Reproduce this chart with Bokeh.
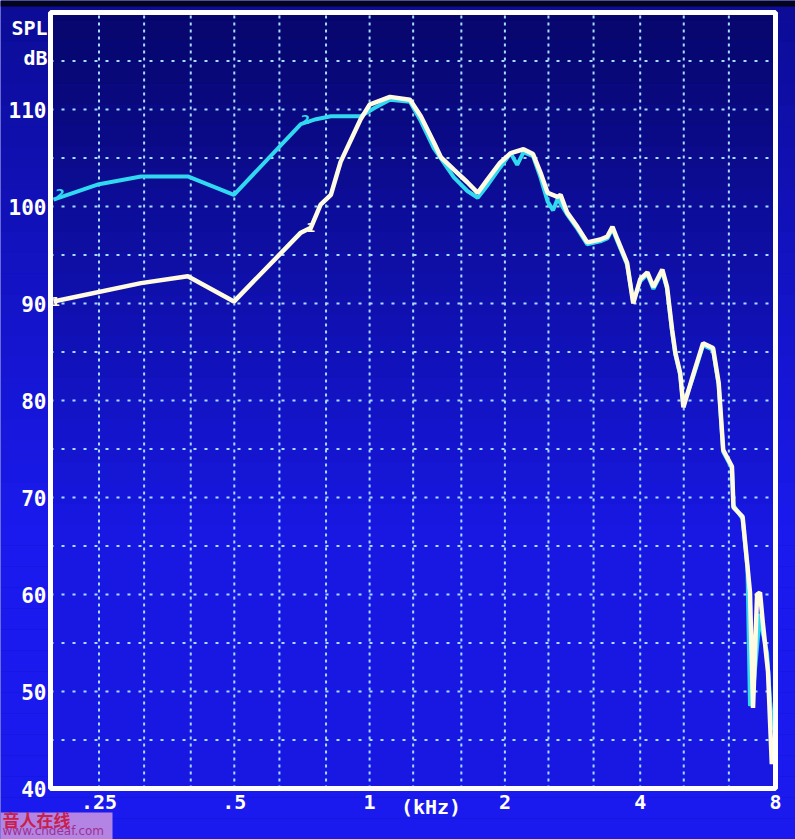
import numpy as np
from bokeh.plotting import figure
from bokeh.models import Range1d
from bokeh.embed import file_html
from bokeh.resources import INLINE
from bokeh.core.properties import value

# ---- data (kHz, dB SPL) ----
white_freq = [0.198, 0.31, 0.394, 0.499, 0.703, 0.74, 0.778, 0.82, 0.862, 0.955, 1.0, 1.11,
              1.23, 1.30, 1.39, 1.44, 1.54, 1.65, 1.74, 1.83, 1.95, 2.06, 2.2, 2.31, 2.40,
              2.49, 2.62, 2.66, 2.75, 2.9, 3.05, 3.26, 3.38, 3.47, 3.56, 3.74, 3.86, 4.0,
              4.15, 4.28, 4.48, 4.59, 4.71, 4.79, 4.91, 4.99, 5.26, 5.52, 5.81, 5.98, 6.12,
              6.4, 6.45, 6.76, 6.93, 7.02, 7.13, 7.28, 7.39, 7.5, 7.7, 7.85]
white_spl = [90.2, 92.1, 92.8, 90.2, 97.3, 97.8, 100.2, 101.2, 104.6, 109.0, 110.5, 111.3,
             111.0, 109.3, 106.6, 105.1, 103.8, 102.5, 101.4, 102.8, 104.5, 105.5, 105.9, 105.4, 103.5,
             101.4, 101.0, 101.2, 99.4, 97.9, 96.3, 96.6, 96.9, 97.9, 96.6, 94.2, 90.0, 92.5,
             93.2, 91.7, 93.5, 91.7, 87.3, 84.9, 82.8, 79.3, 82.8, 85.9, 85.4, 81.8, 74.9,
             73.2, 69.0, 68.0, 62.9, 60.2, 48.3, 60.0, 60.2, 57.0, 52.0, 42.5]

cyan_freq = [0.198, 0.25, 0.31, 0.394, 0.499, 0.703, 0.76, 0.82, 0.955, 1.03, 1.11,
             1.23, 1.30, 1.39, 1.54, 1.65, 1.74, 1.83, 1.95, 2.06, 2.13, 2.2, 2.31, 2.40,
             2.49, 2.56, 2.62, 2.75, 2.9, 3.05, 3.26, 3.38, 3.47, 3.56, 3.74, 3.86, 4.0,
             4.15, 4.28, 4.48, 4.59, 4.71, 4.79, 4.91, 4.99, 5.26, 5.52, 5.81, 5.98, 6.12,
             6.4, 6.45, 6.76, 6.93, 7.02, 7.13, 7.39, 7.5, 7.66, 7.78, 7.9]
cyan_spl = [100.7, 102.3, 103.1, 103.1, 101.2, 108.5, 109.0, 109.3, 109.3, 110.2, 111.0,
            110.8, 108.8, 106.0, 103.0, 101.6, 100.9, 102.2, 104.0, 105.5, 104.3, 105.6, 105.2, 103.0,
            100.5, 99.6, 100.8, 99.2, 97.7, 96.1, 96.4, 96.7, 97.7, 96.4, 94.0, 90.2, 92.3,
            93.0, 91.5, 93.3, 91.5, 87.1, 84.7, 82.6, 79.5, 82.6, 85.7, 85.2, 81.6, 74.7,
            73.0, 69.2, 67.8, 62.7, 48.5, 50.0, 58.0, 56.0, 54.0, 49.0, 46.0]

y_ticks = [40, 50, 60, 70, 80, 90, 100, 110]
y_tick_labels = ["40", "50", "60", "70", "80", "90", "100", "110"]
x_tick_vals = [0.25, 0.5, 1, 1.37, 2, 4, 8]
x_tick_labels = [".25", ".5", "1", "(kHz)", "2", "4", "8"]
third_octave = [0.25, 0.315, 0.4, 0.5, 0.63, 0.8, 1, 1.25, 1.6, 2, 2.5, 3.15, 4, 5, 6.3]
y_grid = [45, 50, 55, 60, 65, 70, 75, 80, 85, 90, 95, 100, 105, 110, 115]

# ---- plot frame geometry (style) ----
W, H = 795, 839
F_LO, F_HI = 0.195, 8.0        # frequency span of the plotting area
DB_LO, DB_HI = 40.0, 120.0     # level span of the plotting area
FL, FR, FT, FB = 50, 775, 12, 788   # plotting area edges in canvas pixels
PX_OCT = (FR - FL) / np.log2(F_HI / F_LO)
PX_DB = (FB - FT) / (DB_HI - DB_LO)
X_LO = F_LO * 2 ** (-FL / PX_OCT)
X_HI = F_HI * 2 ** ((W - FR) / PX_OCT)
Y_LO = DB_LO - (H - FB) / PX_DB
Y_HI = DB_HI + FT / PX_DB

def fx(px_from_left_edge):
    """frequency at a pixel offset from the left edge of the plotting area"""
    return F_LO * 2 ** (px_from_left_edge / PX_OCT)

def dy(px_below_top):
    return DB_HI - px_below_top / PX_DB

p = figure(width=W, height=H, x_axis_type="log",
           x_range=Range1d(X_LO, X_HI), y_range=Range1d(Y_LO, Y_HI),
           output_backend="svg", toolbar_location=None,
           min_border_left=0, min_border_right=0, min_border_top=0, min_border_bottom=0)
p.axis.visible = False
p.grid.visible = False
p.outline_line_color = None
p.background_fill_color = "#1010c0"
p.border_fill_color = "#1010c0"

# photo-like brightness gradient (dark top, bright bottom)
def shade(t, a, b):
    return "#%02x%02x%02x" % tuple(int(a[i] + (b[i] - a[i]) * t) for i in range(3))

n = 40
edges = np.linspace(Y_LO, Y_HI, n + 1)
out_cols, in_cols = [], []
for i in range(n):
    t = (Y_HI - (edges[i] + edges[i + 1]) / 2) / (Y_HI - Y_LO)  # 0 top, 1 bottom
    tt = min(1.0, t * 1.6)
    out_cols.append(shade(tt, (12, 12, 150), (26, 26, 238)))
    in_cols.append(shade(tt, (6, 6, 104), (24, 24, 226)))
p.quad(left=X_LO, right=X_HI, bottom=edges[:-1], top=edges[1:], fill_color=out_cols, line_color=None)
inner = np.clip(edges, DB_LO, DB_HI)
p.quad(left=F_LO, right=F_HI, bottom=inner[:-1], top=inner[1:], fill_color=in_cols, line_color=None)
# dark strip along the top of the photo
p.quad(left=X_LO, right=X_HI, bottom=dy(-6), top=Y_HI, fill_color="#04041c", line_color=None)

# dotted grid
p.segment(x0=third_octave, x1=third_octave, y0=DB_LO, y1=DB_HI,
          line_color="#a6dcff", line_width=2, line_dash="3 4")
p.segment(x0=F_LO, x1=F_HI, y0=y_grid, y1=y_grid,
          line_color="#a6dcff", line_width=2, line_dash="3 8")

# curves
p.line(cyan_freq, cyan_spl, line_color="#30d8f0", line_width=4)
p.line(white_freq, white_spl, line_color="#fffae2", line_width=4.5)

# curve identifiers
p.text(x=[0.205, 0.72], y=[101.3, 109.0], text=["2", "2"], text_color="#30d8f0",
       text_font_size="13px", text_font=value("DejaVu Sans"), text_font_style="bold",
       text_align="center", text_baseline="middle")
p.text(x=[0.2, 0.74], y=[90.2, 97.8], text=["1", "1"], text_color="#fffae2",
       text_font_size="13px", text_font=value("DejaVu Sans"), text_font_style="bold",
       text_align="center", text_baseline="middle")

# frame
p.quad(left=F_LO, right=F_HI, bottom=DB_LO, top=DB_HI, fill_color=None,
       line_color="white", line_width=5)

# tick labels
p.text(x=fx(-4), y=y_ticks, text=y_tick_labels, text_color="white",
       text_font=value("DejaVu Sans Mono"), text_font_style="bold", text_font_size="21px",
       text_align="right", text_baseline="middle")
p.text(x=x_tick_vals, y=DB_LO - 6 / PX_DB, text=x_tick_labels, text_color="white",
       text_font=value("DejaVu Sans Mono"), text_font_style="bold", text_font_size="20px",
       text_align="center", text_baseline="top")

# SPL / dB
p.text(x=fx(-3), y=[dy(15), dy(45)], text=["SPL", "dB"], text_color="white",
       text_font=value("DejaVu Sans Mono"), text_font_style="bold", text_font_size="20px",
       text_align="right", text_baseline="middle")

# watermark
p.quad(left=X_LO, right=fx(62), bottom=Y_LO, top=DB_LO - 24 / PX_DB,
       fill_color="#e8a8e0", fill_alpha=0.75, line_color=None)
p.text(x=fx(-48), y=DB_LO - 31 / PX_DB, text=["音人在线"], text_color="#c8204c",
       text_font=value("Noto Sans CJK SC"), text_font_style="bold", text_font_size="17px",
       text_align="left", text_baseline="middle")
p.text(x=fx(-48), y=DB_LO - 42 / PX_DB, text=["www.cndeaf.com"], text_color="#a03090",
       text_font=value("DejaVu Sans"), text_font_size="12px",
       text_align="left", text_baseline="middle")

open("out.html", "w").write(file_html(p, INLINE))
